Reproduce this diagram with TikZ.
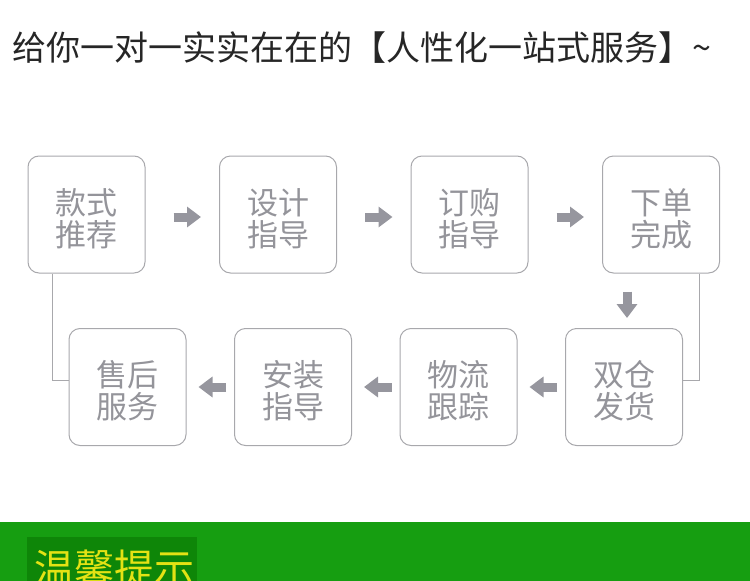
\documentclass[tikz,border=0pt]{standalone}
\usepackage{fontspec}
\setmainfont{Noto Sans CJK SC}
\definecolor{TitleGray}{RGB}{38,38,38}
\definecolor{BoxGray}{RGB}{168,168,172}
\definecolor{TextGray}{RGB}{148,148,154}
\definecolor{ArrowGray}{RGB}{150,150,158}
\definecolor{BandGreen}{RGB}{22,158,17}
\definecolor{TagGreen}{RGB}{14,134,8}
\definecolor{TagYellow}{RGB}{228,226,20}
\usetikzlibrary{positioning, arrows.meta}

\tikzset{
  stepbox/.style={draw=BoxGray, line width=1pt, rounded corners=11pt,
    minimum width=117pt, minimum height=117pt, inner sep=0pt},
  steptext/.style={text=TextGray, align=center, inner sep=0pt, yshift=-4pt,
    font=\fontsize{31}{32}\selectfont},
  flow/.style={ArrowGray, line width=9pt,
    -{Triangle[length=14pt, width=20pt]}},
  link/.style={BoxGray, line width=1pt}
}

\begin{document}
\begin{tikzpicture}[x=1pt, y=-1pt]
  \useasboundingbox (0,0) rectangle (750,581);
  \clip (0,0) rectangle (750,581);

  % title
  \node[anchor=west, inner sep=0pt, text=TitleGray, font=\fontsize{34}{36}\selectfont]
    (title) at (12,48) {给你一对一实实在在的【人性化一站式服务】\textasciitilde};

  % top row
  \node[stepbox, label={[steptext]center:款式\\推荐}] (kuanshi) at (86.5,214.5) {};
  \node[stepbox, label={[steptext]center:设计\\指导}, right=73.5pt of kuanshi] (sheji) {};
  \node[stepbox, label={[steptext]center:订购\\指导}, right=73.5pt of sheji] (dinggou) {};
  \node[stepbox, label={[steptext]center:下单\\完成}, right=73.5pt of dinggou] (xiadan) {};

  % bottom row
  \node[stepbox, label={[steptext]center:售后\\服务}] (shouhou) at (127.5,387) {};
  \node[stepbox, label={[steptext]center:安装\\指导}, right=47.5pt of shouhou] (anzhuang) {};
  \node[stepbox, label={[steptext]center:物流\\跟踪}, right=47.5pt of anzhuang] (wuliu) {};
  \node[stepbox, label={[steptext]center:双仓\\发货}, right=47.5pt of wuliu] (fahuo) {};

  % arrows
  \draw[flow, shorten <=28pt, shorten >=18pt]
    ([yshift=-2.5pt]kuanshi.east) -- ([yshift=-2.5pt]sheji.west);
  \draw[flow, shorten <=28pt, shorten >=18pt]
    ([yshift=-2.5pt]sheji.east) -- ([yshift=-2.5pt]dinggou.west);
  \draw[flow, shorten <=28pt, shorten >=18pt]
    ([yshift=-2.5pt]dinggou.east) -- ([yshift=-2.5pt]xiadan.west);
  \draw[flow, shorten <=18pt, shorten >=10pt]
    ([xshift=3pt]fahuo.north |- xiadan.south) -- ([xshift=3pt]fahuo.north);
  \draw[flow, shorten <=8pt, shorten >=12pt] (fahuo) -- (wuliu);
  \draw[flow, shorten <=8pt, shorten >=12pt] (wuliu) -- (anzhuang);
  \draw[flow, shorten <=8pt, shorten >=12pt] (anzhuang) -- (shouhou);

  % side links
  \draw[link] ([xshift=25pt]kuanshi.south west) |- ([yshift=7pt]shouhou.west);
  \draw[link] ([xshift=-21pt]xiadan.south east) |- ([yshift=7pt]fahuo.east);

  % green band
  \fill[BandGreen] (0,522) rectangle (750,581);
  \fill[TagGreen] (27,537) rectangle (197,590);
  \node[anchor=base west, inner sep=0pt, text=TagYellow, font=\fontsize{40}{40}\selectfont]
    (tip) at (34,583) {温馨提示};
\end{tikzpicture}
\end{document}
